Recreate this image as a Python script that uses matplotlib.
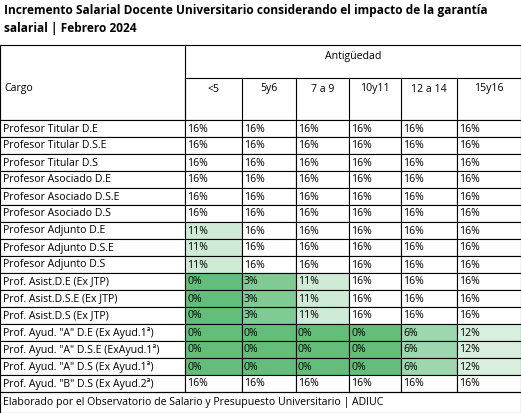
import matplotlib
matplotlib.use("Agg")
import matplotlib.pyplot as plt
from matplotlib.colors import LinearSegmentedColormap
from matplotlib.patches import Rectangle

plt.rcParams["font.family"] = ["Open Sans", "DejaVu Sans"]

TITLE = "Incremento Salarial Docente Universitario considerando el impacto de la garantía\nsalarial | Febrero 2024"
FOOTER = "Elaborado por el Observatorio de Salario y Presupuesto Universitario | ADIUC"
columns = ["<5", "5y6", "7 a 9", "10y11", "12 a 14", "15y16"]
cargos = [
    "Profesor Titular D.E", "Profesor Titular D.S.E", "Profesor Titular D.S",
    "Profesor Asociado D.E", "Profesor Asociado D.S.E", "Profesor Asociado D.S",
    "Profesor Adjunto D.E", "Profesor Adjunto D.S.E", "Profesor Adjunto D.S",
    "Prof. Asist.D.E (Ex JTP)", "Prof. Asist.D.S.E (Ex JTP)", "Prof. Asist.D.S (Ex JTP)",
    'Prof. Ayud. "A" D.E (Ex Ayud.1ª)', 'Prof. Ayud. "A" D.S.E (ExAyud.1ª)',
    'Prof. Ayud. "A" D.S (Ex Ayud.1ª)', 'Prof. Ayud. "B" D.S (Ex Ayud.2ª)',
]
values = [
    [16, 16, 16, 16, 16, 16],
    [16, 16, 16, 16, 16, 16],
    [16, 16, 16, 16, 16, 16],
    [16, 16, 16, 16, 16, 16],
    [16, 16, 16, 16, 16, 16],
    [16, 16, 16, 16, 16, 16],
    [11, 16, 16, 16, 16, 16],
    [11, 16, 16, 16, 16, 16],
    [11, 16, 16, 16, 16, 16],
    [0, 3, 11, 16, 16, 16],
    [0, 3, 11, 16, 16, 16],
    [0, 3, 11, 16, 16, 16],
    [0, 0, 0, 0, 6, 12],
    [0, 0, 0, 0, 6, 12],
    [0, 0, 0, 0, 6, 12],
    [16, 16, 16, 16, 16, 16],
]

# layout in pixel units
col_x = [185, 242, 296, 349, 401, 457, 521]
top, head1, head2 = 45, 78, 120
row_h = 17.0
cmap = LinearSegmentedColormap.from_list("g", ["#63be7b", "#ffffff"])

fig = plt.figure(figsize=(5.21, 4.13), dpi=100)
ax = fig.add_axes([0, 0, 1, 1])
ax.set_xlim(0, 521)
ax.set_ylim(413, 0)
ax.axis("off")
fig.patch.set_facecolor("white")
lw = 0.8

ax.text(4, 4, TITLE, fontsize=8.6, fontweight="bold", va="top", linespacing=1.5)

# header
ax.add_patch(Rectangle((0, top), 521, head2 - top, fill=False, lw=lw, ec="black"))
ax.plot([185, 185], [top, head2], color="black", lw=lw)
ax.plot([185, 521], [head1, head1], color="black", lw=lw)
ax.text((185 + 521) / 2, 57, "Antigüedad", fontsize=7.6, ha="center", va="center")
ax.text(4, 89, "Cargo", fontsize=7.6, va="center")
for j, c in enumerate(columns):
    ax.plot([col_x[j], col_x[j]], [head1, head2], color="black", lw=lw)
    ax.text((col_x[j] + col_x[j + 1]) / 2, 89, c, fontsize=7.6, ha="center", va="center")

# body
for i, (cargo, row) in enumerate(zip(cargos, values)):
    y0 = head2 + i * row_h
    ax.add_patch(Rectangle((0, y0), 185, row_h, fc="white", ec="black", lw=lw))
    ax.text(3, y0 + row_h / 2 + 0.5, cargo, fontsize=7.6, va="center")
    for j, v in enumerate(row):
        ax.add_patch(Rectangle((col_x[j], y0), col_x[j + 1] - col_x[j], row_h,
                               fc=cmap(v / 16), ec="black", lw=lw))
        ax.text(col_x[j] + 2, y0 + row_h / 2 + 0.5, f"{v}%", fontsize=7.6, va="center")

yf = head2 + len(cargos) * row_h
ax.add_patch(Rectangle((0, yf), 521, 413 - yf, fill=False, ec="black", lw=lw))
ax.text(3, (yf + 413) / 2, FOOTER, fontsize=7.6, va="center")

fig.savefig("out.png", dpi=100)
